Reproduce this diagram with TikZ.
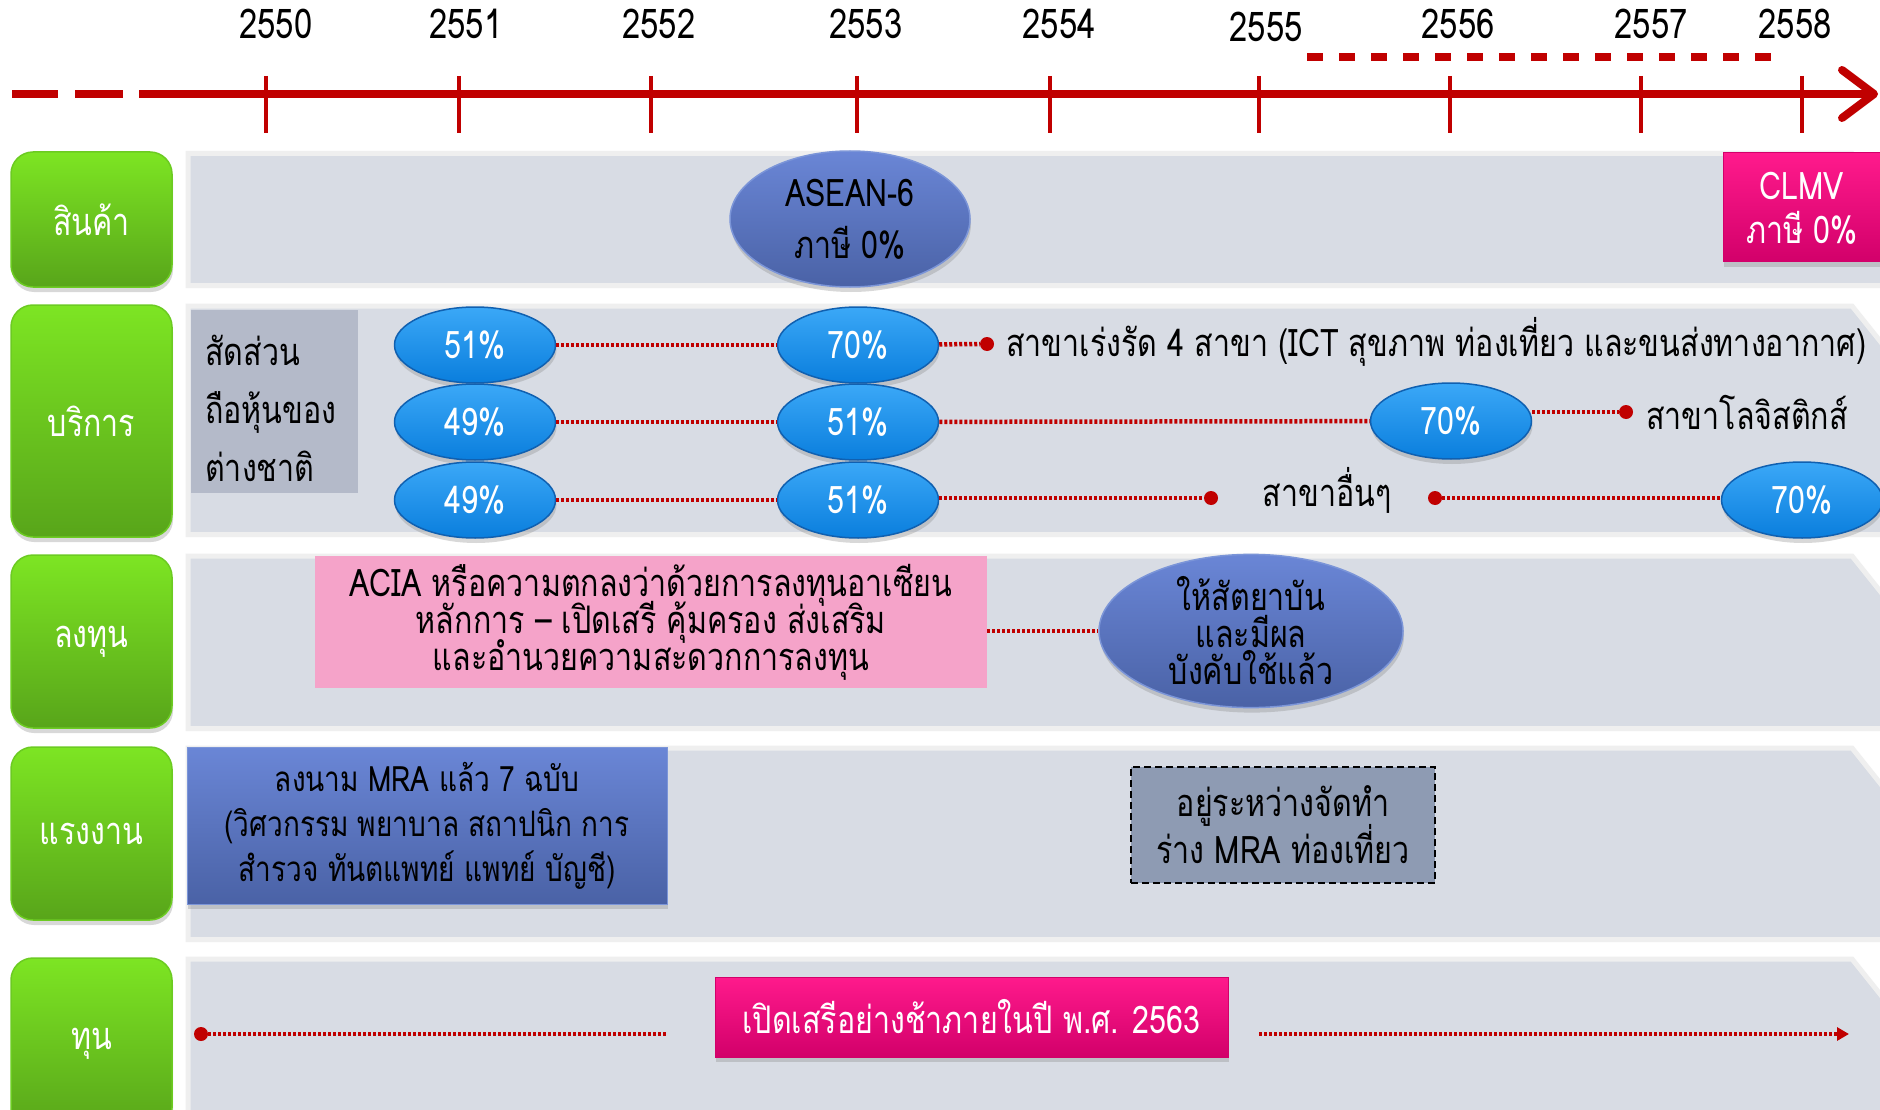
\documentclass[tikz,border=0pt]{standalone}
\usepackage{fontspec}
\setmainfont[Script=Thai,FakeStretch=0.80]{Loma}
\usetikzlibrary{shapes.geometric,shadows,arrows.meta}
\definecolor{axred}{HTML}{C00000}
\definecolor{grtop}{HTML}{7DE523}
\definecolor{grbot}{HTML}{58A51A}
\definecolor{grline}{HTML}{6CCB22}
\definecolor{bandfill}{HTML}{D8DCE4}
\definecolor{bandedge}{HTML}{EFEFEF}
\definecolor{bltop}{HTML}{6A86D6}
\definecolor{blbot}{HTML}{4A62A6}
\definecolor{blline}{HTML}{7B95D8}
\definecolor{pcttop}{HTML}{3BA8F7}
\definecolor{pctbot}{HTML}{0A7EDD}
\definecolor{pctline}{HTML}{1060B0}
\definecolor{graybox}{HTML}{B4BAC9}
\definecolor{magtop}{HTML}{FF1A8C}
\definecolor{magbot}{HTML}{D2006A}
\definecolor{pinkbox}{HTML}{F5A3C9}
\definecolor{dashbox}{HTML}{8E9BB3}
\newcommand\myfs[1][40]{\fontsize{38}{#1}\selectfont\lineskiplimit=-100pt\lineskip=0pt}
\newcommand\myfss[1][40]{\fontsize{35}{#1}\selectfont\lineskiplimit=-100pt\lineskip=0pt}
\newcommand\myband[2]{\draw[bandsty] (188,#1) -- (1852,#1) -- (1900,#1+60) -- (1900,#2) -- (188,#2) -- cycle;}
\begin{document}
\begin{tikzpicture}[x=1pt,y=-1pt,
  shd/.style={drop shadow={opacity=0.3,shadow xshift=1pt,shadow yshift=-5pt}},
  lbl/.style={shape=rectangle, rounded corners=22pt, minimum width=161pt, top color=grtop, bottom color=grbot, draw=grline, line width=1.5pt, text=white, font=\myfs, shd},
  bandsty/.style={fill=bandfill, draw=bandedge, line width=5pt},
  yr/.style={font=\fontsize{41}{44}\selectfont, text=black},
  tick/.style={draw=axred, line width=3.5pt},
  pct/.style={ellipse, minimum width=161pt, minimum height=76pt, inner sep=0pt, top color=pcttop, bottom color=pctbot, draw=pctline, line width=1.5pt, text=white, font=\myfs, shd},
  bigell/.style={ellipse, inner sep=0pt, top color=bltop, bottom color=blbot, draw=blline, line width=1.5pt, text=black, align=center, shd},
  dotline/.style={draw=axred, line width=4.5pt, dash pattern=on 3pt off 2pt},
  dotn/.style={circle, fill=axred, inner sep=0pt, minimum size=14pt},
  txt/.style={font=\myfs, text=black, inner sep=0pt}
]
\useasboundingbox (0,0) rectangle (1880,1110);
\clip (0,0) rectangle (1880,1110);
\fill[white] (0,0) rectangle (1880,1110);

% ---------- timeline ----------
\draw[axred, line width=8pt] (12,94) -- (58,94);
\draw[axred, line width=8pt] (75,94) -- (123,94);
\draw[axred, line width=8pt] (139,94) -- (1872,94);
\draw[axred, line width=8pt, line cap=round, line join=round] (1842,70) -- (1874,94) -- (1842,118);
\draw[axred, line width=8pt, dash pattern=on 16pt off 16pt] (1307,57) -- (1775,57);
\foreach \x/\lx/\ly/\yy in {266/276/24/2550, 459/466/24/2551, 651/659/24/2552, 857/866/24/2553, 1050/1059/24/2554, 1259/1266/27/2555, 1450/1458/24/2556, 1641/1651/24/2557, 1802/1795/24/2558}{
  \draw[tick] (\x,76) -- (\x,133);
  \node[yr] (y\yy) at (\lx,\ly) {\yy};
}

% ---------- bands ----------
\myband{153.5}{285.5}
\myband{306}{534.5}
\myband{556}{728.5}
\myband{748}{939.5}
\myband{959}{1130}

% ---------- row labels ----------
\node[lbl, minimum height=135pt] (l1) at (91.5,219.5) {สินค้า};
\node[lbl, minimum height=232pt] (l2) at (91.5,421) {บริการ};
\node[lbl, minimum height=173pt] (l3) at (91.5,641.5) {ลงทุน};
\node[lbl, minimum height=173pt] (l4) at (91.5,833.5) {แรงงาน};
\node[lbl, minimum height=172pt] (l5) at (91.5,1044) {ทุน};

% ---------- row 1 ----------
\node[bigell, minimum width=240pt, minimum height=136pt, font={\myfs[52]}] (asean) at (850,219) {ASEAN-6\\ภาษี 0\%};
\node[shape=rectangle, minimum width=170pt, minimum height=109pt, top color=magtop, bottom color=magbot, draw=magbot, line width=1pt, inner sep=0pt, shd] (clmv) at (1808,207.5) {};
\node[txt, text=white, align=center, font={\myfs[44]}] (clmvt) at (1802,208) {CLMV\\ภาษี 0\%};

% ---------- row 2 ----------
\node[shape=rectangle, fill=graybox, minimum width=167pt, minimum height=183pt] (share) at (274.5,401.5) {};
\node[txt, align=left, anchor=west, font={\myfs[58]}] (sharet) at (205,408) {สัดส่วน\\ถือหุ้นของ\\ต่างชาติ};

\node[pct] (a1) at (475,345) {51\%};
\node[pct] (a2) at (858,345) {70\%};
\node[pct] (b1) at (475,422) {49\%};
\node[pct] (b2) at (858,422) {51\%};
\node[pct] (b3) at (1451,421) {70\%};
\node[pct] (c1) at (475,500) {49\%};
\node[pct] (c2) at (858,500) {51\%};
\node[pct] (c4) at (1802,500) {70\%};

\node[dotn] (da) at (987,344) {};
\node[txt, anchor=west] (ta) at (1006,342) {สาขาเร่งรัด 4 สาขา (ICT สุขภาพ ท่องเที่ยว และขนส่งทางอากาศ)};
\node[dotn] (db) at (1626,412) {};
\node[txt, anchor=west] (tb) at (1646,412) {สาขาโลจิสติกส์};
\node[dotn] (dc1) at (1211,498) {};
\node[txt] (tc) at (1327,490) {สาขาอื่นๆ};
\node[dotn] (dc2) at (1435,498) {};

\draw[dotline] (a1) -- (a2);
\draw[dotline] (a2) -- (da);
\draw[dotline] (b1) -- (b2);
\draw[dotline] (b2) -- (b3);
\draw[dotline] (b3.east |- db) -- (db);
\draw[dotline] (c1) -- (c2);
\draw[dotline] (c2.east |- dc1) -- (dc1);
\draw[dotline] (dc2) -- (c4.west |- dc2);

% ---------- row 3 ----------
\node[shape=rectangle, fill=pinkbox, minimum width=672pt, minimum height=132pt, inner sep=0pt, font={\myfs[37]}, align=center] (acia) at (651,622) {ACIA หรือความตกลงว่าด้วยการลงทุนอาเซียน\\หลักการ -- เปิดเสรี คุ้มครอง ส่งเสริม\\และอำนวยความสะดวกการลงทุน};
\node[bigell, minimum width=304pt, minimum height=153pt, font={\myfs[37]}] (inv) at (1251,631) {ให้สัตยาบัน\\และมีผล\\บังคับใช้แล้ว};
\draw[dotline] (inv.west -| acia.east) -- (inv.west);

% ---------- row 4 ----------
\node[shape=rectangle, minimum width=480pt, minimum height=157pt, top color=bltop, bottom color=blbot, draw=blline, line width=1pt, inner sep=0pt, font={\myfss[45]}, align=center, shd] (mra) at (427,825.5) {ลงนาม MRA แล้ว 7 ฉบับ\\(วิศวกรรม พยาบาล สถาปนิก การ\\สำรวจ ทันตแพทย์ แพทย์ บัญชี)};
\node[shape=rectangle, minimum width=304pt, minimum height=116pt, fill=dashbox, draw=black, line width=1.5pt, dash pattern=on 7pt off 4pt, inner sep=0pt, font={\myfs[47]}, align=center] (draft) at (1283,825) {อยู่ระหว่างจัดทำ\\ร่าง MRA ท่องเที่ยว};

% ---------- row 5 ----------
\node[shape=rectangle, minimum width=513pt, minimum height=80pt, top color=magtop, bottom color=magbot, draw=magbot, line width=1pt, text=white, font=\myfs, inner sep=0pt, shd] (cap) at (971.5,1017) {เปิดเสรีอย่างช้าภายในปี พ.ศ. 2563};
\node[dotn] (d5) at (201,1034) {};
\coordinate (c5a) at (667,1034);
\coordinate (c5b) at (1259,1034);
\coordinate (c5c) at (1849,1034);
\draw[dotline] (d5) -- (c5a);
\draw[dotline, -{Triangle[length=12pt,width=13pt]}] (c5b) -- (c5c);
\end{tikzpicture}
\end{document}
